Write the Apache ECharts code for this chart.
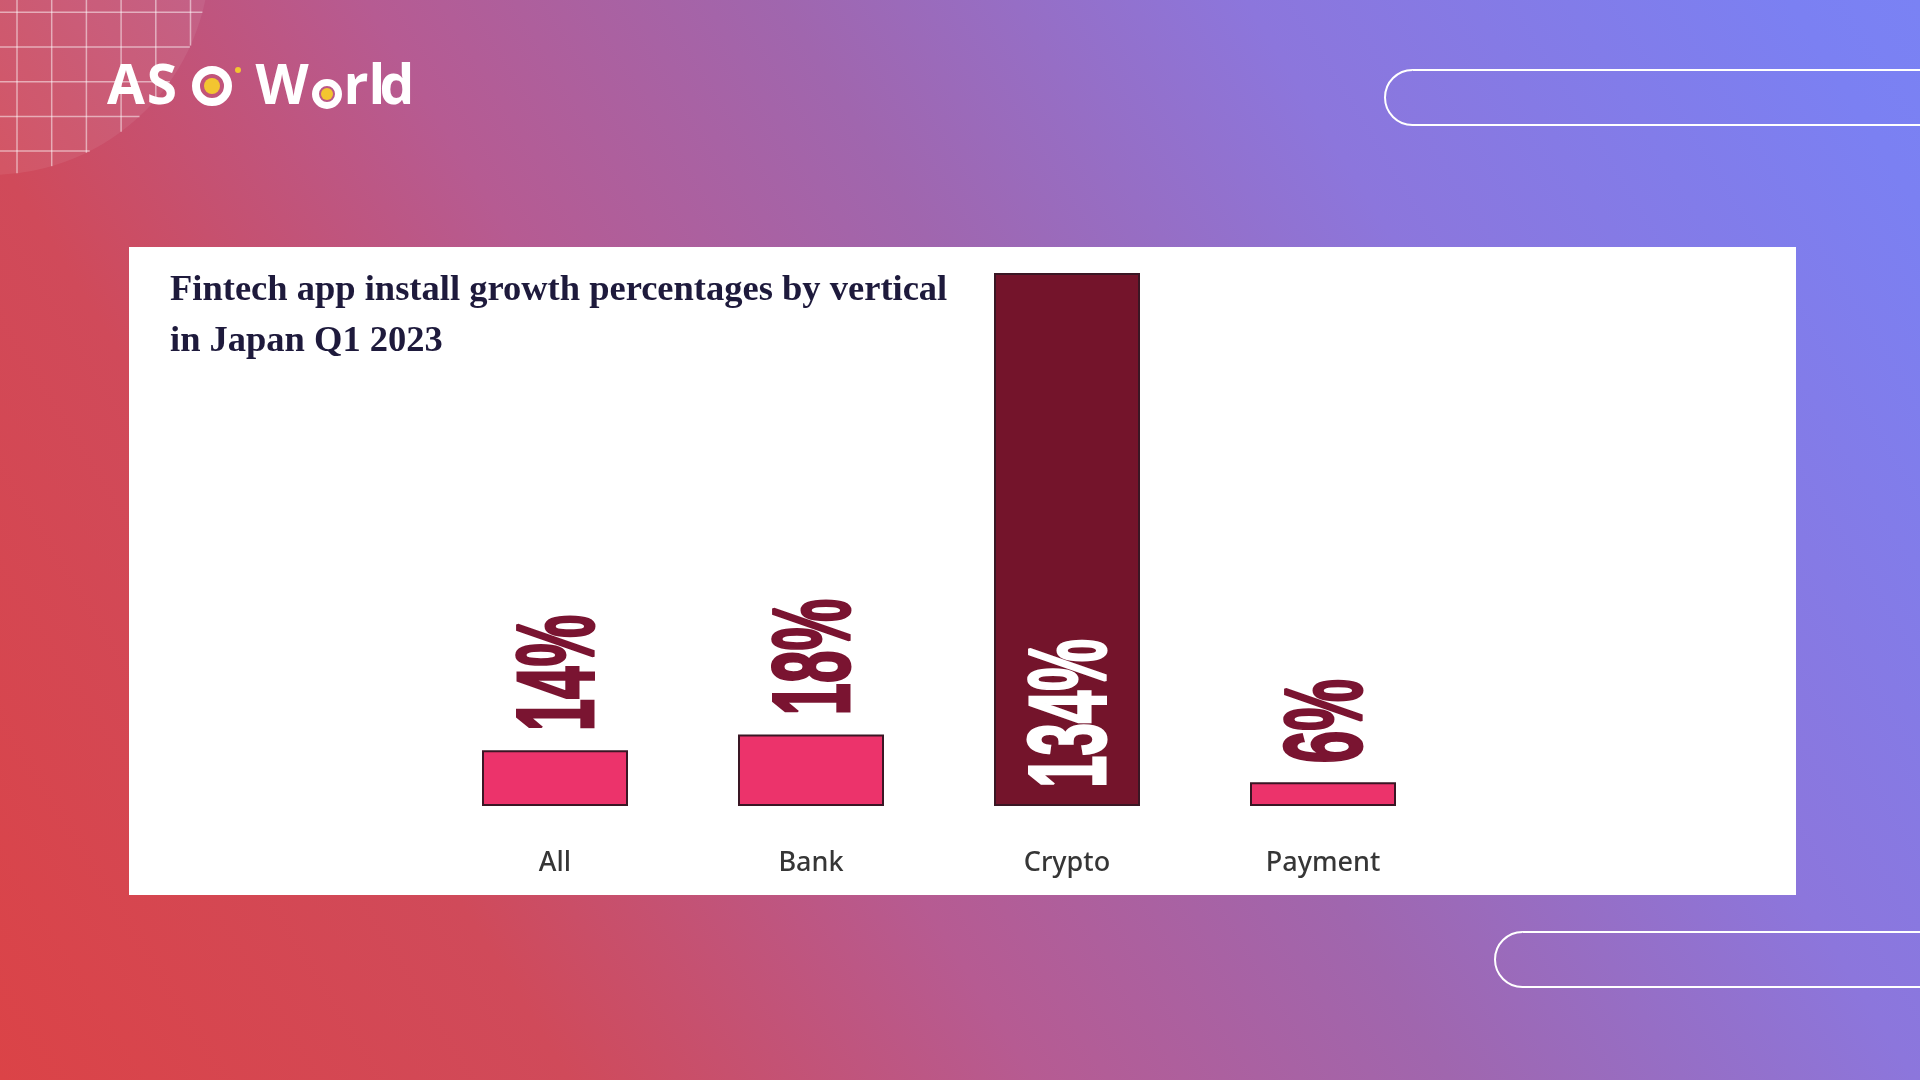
<!DOCTYPE html>
<html>
<head>
<meta charset="utf-8">
<title>Fintech app install growth percentages by vertical in Japan Q1 2023</title>
<script src="https://cdn.jsdelivr.net/npm/echarts@6/dist/echarts.min.js"></script>
<style>
  html, body { margin: 0; padding: 0; }
  #main { width: 1920px; height: 1080px; }
</style>
</head>
<body>
<div id="main"></div>
<script>
const categories = ["All", "Bank", "Crypto", "Payment"];
const growth = [14, 18, 134, 6];
const growthLabels = ["14%", "18%", "134%", "6%"];
const barColors = ["#ec336b", "#ec336b", "#74142b", "#ec336b"];

const chart = echarts.init(document.getElementById("main"));

// top-left decorative grid inside a circle
const decoCx = -10, decoCy = -45, decoR = 220;
const decoGrid = [
  { type: "circle", shape: { cx: decoCx, cy: decoCy, r: decoR }, style: { fill: "rgba(255,255,255,0.07)" } }
];
for (let k = 0; k < 6; k++) {
  const x = 17 + 34.7 * k;
  const yEnd = decoCy + Math.sqrt(decoR * decoR - (x - decoCx) * (x - decoCx));
  decoGrid.push({ type: "line", shape: { x1: x, y1: 0, x2: x, y2: yEnd }, style: { stroke: "rgba(255,255,255,0.5)", lineWidth: 1.5 } });
}
for (let k = 0; k < 5; k++) {
  const y = 12.3 + 34.7 * k;
  const xEnd = decoCx + Math.sqrt(decoR * decoR - (y - decoCy) * (y - decoCy));
  decoGrid.push({ type: "line", shape: { x1: 0, y1: y, x2: xEnd, y2: y }, style: { stroke: "rgba(255,255,255,0.5)", lineWidth: 1.5 } });
}

// logo, letter by letter
const logoFont = 'bold 55px "Open Sans"';
const logoLetter = (t, x) => ({ type: "text", x: x, y: 88, style: { text: t, font: logoFont, fill: "#fff", align: "center", verticalAlign: "middle" } });
const logo = [
  logoLetter("A", 126),
  logoLetter("S", 162),
  { type: "circle", shape: { cx: 212, cy: 86, r: 16 }, style: { fill: "none", stroke: "#fff", lineWidth: 8 } },
  { type: "circle", shape: { cx: 212, cy: 86, r: 8 }, style: { fill: "#f3c530" } },
  { type: "circle", shape: { cx: 238, cy: 70, r: 3 }, style: { fill: "#f3c530" } },
  logoLetter("W", 282),
  { type: "circle", shape: { cx: 327, cy: 94, r: 11.5 }, style: { fill: "none", stroke: "#fff", lineWidth: 7 } },
  { type: "circle", shape: { cx: 327, cy: 94, r: 6 }, style: { fill: "#f3c530" } },
  logoLetter("r", 356),
  logoLetter("l", 377),
  logoLetter("d", 397)
];

const option = {
  backgroundColor: new echarts.graphic.LinearGradient(0, 1, 0.974, -0.074, [
    { offset: 0, color: "#db4347" },
    { offset: 0.22, color: "#d04a5a" },
    { offset: 0.4, color: "#b65b92" },
    { offset: 0.56, color: "#a066ae" },
    { offset: 0.74, color: "#8c76dc" },
    { offset: 0.95, color: "#7b80f2" },
    { offset: 1, color: "#7a82f4" }
  ]),
  title: {
    text: "Fintech app install growth percentages by vertical\nin Japan Q1 2023",
    left: 165,
    top: 260,
    textStyle: {
      fontFamily: "Liberation Serif",
      fontWeight: "bold",
      fontSize: 36.5,
      lineHeight: 51,
      color: "#1e1a3c"
    }
  },
  graphic: [
    ...decoGrid,
    ...logo,
    { type: "rect", shape: { x: 1385, y: 70, width: 600, height: 55, r: 27.5 }, style: { fill: "none", stroke: "#fff", lineWidth: 2 } },
    { type: "rect", shape: { x: 1495, y: 932, width: 500, height: 55, r: 27.5 }, style: { fill: "none", stroke: "#fff", lineWidth: 2 } },
    { type: "rect", shape: { x: 129, y: 247, width: 1667, height: 648 }, style: { fill: "#ffffff" } }
  ],
  grid: {
    left: 427,
    width: 1024,
    top: 273,
    bottom: 274
  },
  xAxis: {
    type: "category",
    data: categories,
    axisLine: { show: false },
    axisTick: { show: false },
    axisLabel: {
      margin: 44,
      fontFamily: "Noto Sans",
      fontWeight: 500,
      fontSize: 27,
      color: "#363636"
    }
  },
  yAxis: {
    type: "value",
    min: 0,
    max: 134,
    show: false
  },
  series: [
    {
      type: "bar",
      data: growth.map((v, i) => ({ value: v, itemStyle: { color: barColors[i] } })),
      barWidth: 146,
      itemStyle: { borderColor: "#3a1624", borderWidth: 2 },
      silent: true
    },
    {
      type: "custom",
      z: 4,
      silent: true,
      data: growth.map((v, i) => [i, v]),
      renderItem: (params, api) => {
        const i = api.value(0);
        const top = api.coord([i, api.value(1)]);
        const base = api.coord([i, 0]);
        const inside = base[1] - top[1] > 200;
        const col = inside ? "#ffffff" : "#7a1431";
        return {
          type: "text",
          x: top[0] + 8,
          y: inside ? base[1] - 18 : top[1] - 19,
          rotation: Math.PI / 2,
          scaleX: 0.53,
          style: {
            text: growthLabels[i],
            font: 'bold 110px "Liberation Sans"',
            fill: col,
            stroke: col,
            lineWidth: 3,
            align: "left",
            verticalAlign: "middle"
          }
        };
      }
    }
  ]
};

chart.setOption(option);
</script>
</body>
</html>
